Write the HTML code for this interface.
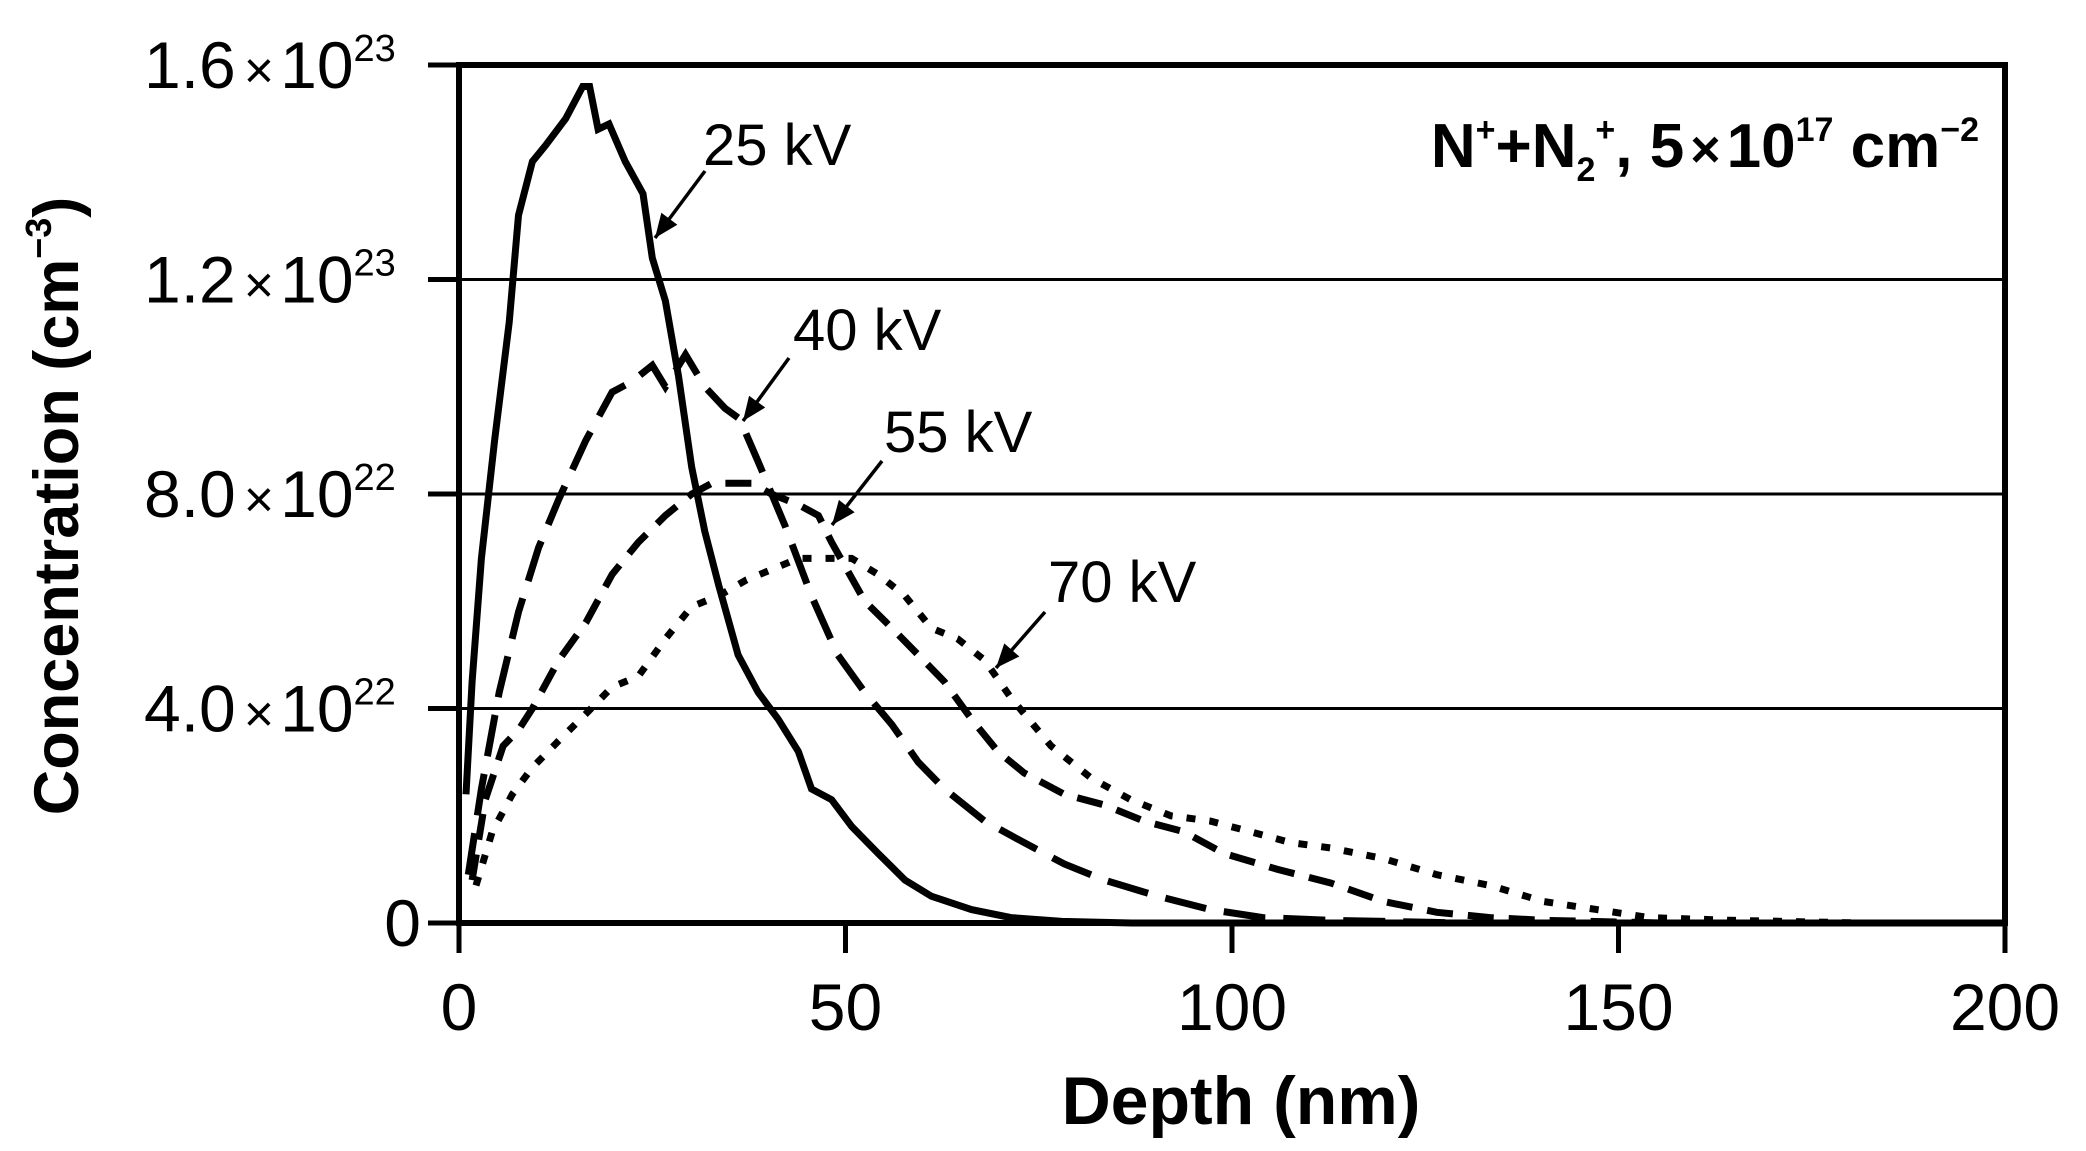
<!DOCTYPE html>
<html><head><meta charset="utf-8"><style>
html,body{margin:0;padding:0;background:#fff;}
svg{display:block;font-family:"Liberation Sans",sans-serif;}
</style></head><body>
<svg id="chart" width="2086" height="1151" viewBox="0 0 2086 1151" xmlns="http://www.w3.org/2000/svg">
<g id="grid"></g>
<g id="series"></g>
<g id="axes"></g>
<g id="annot">
  <text x="1979" y="167" text-anchor="end" font-size="62" font-weight="bold">N<tspan font-size="34" dy="-26">+</tspan><tspan dy="26">+N</tspan><tspan font-size="34" dy="14">2</tspan><tspan font-size="34" dy="-40">+</tspan><tspan dy="26">, 5</tspan><tspan font-size="52" dx="6">×</tspan><tspan dx="6">10</tspan><tspan font-size="34" dy="-26">17</tspan><tspan dy="26"> cm</tspan><tspan font-size="34" dy="-26">−2</tspan></text>
  <text x="703" y="165" font-size="58">25 kV</text>
  <text x="793" y="350" font-size="58">40 kV</text>
  <text x="884" y="452" font-size="58">55 kV</text>
  <text x="1048" y="602" font-size="58">70 kV</text>
  <text x="1241" y="1124" text-anchor="middle" font-size="68" font-weight="bold">Depth (nm)</text>
  <text transform="translate(78,506) rotate(-90)" text-anchor="middle" font-size="63" font-weight="bold">Concentration (cm<tspan font-size="36" dy="-27">−3</tspan><tspan dy="27">)</tspan></text>
</g>
</svg>
<script>
const xTicks=[0,50,100,150,200];
const yTicks=[0,4,8,12,16];
const yTickLabels=["0","4.0","8.0","1.2","1.6"];
const yTickExp=["","22","22","23","23"];
const depth25=[0.9,1.7,2.9,4.6,6.5,7.7,9.5,11.2,13.8,16,16.9,18,19.4,21.5,23.8,25,26.7,28.4,30.1,31.8,33.6,36.1,38.7,41.3,43.9,45.6,48.2,50.8,54.2,57.7,61.1,66.3,71.4,78,87,120,200];
const conc25=[2.4,4.5,6.8,9.0,11.2,13.2,14.2,14.5,15.0,15.6,15.6,14.8,14.9,14.2,13.6,12.4,11.6,10.2,8.5,7.3,6.3,5.0,4.3,3.8,3.2,2.5,2.3,1.8,1.3,0.8,0.5,0.25,0.1,0.03,0,0,0];
const depth40=[1.2,2.9,5.2,7.7,10.3,12.9,16.4,19.8,22.4,25,26.7,29.3,31.8,34.4,36.3,38.7,42.2,45.6,49,52.5,56,59.4,62.8,68,73.1,78.3,83.5,90.4,97.2,104,112.7,130,200];
const conc40=[0.9,2.5,4.3,5.8,7.0,7.9,9.0,9.9,10.1,10.4,10.0,10.6,10.0,9.6,9.4,8.6,7.4,6.1,5.0,4.3,3.7,3.0,2.5,1.9,1.5,1.1,0.8,0.5,0.25,0.1,0.05,0,0];
const depth55=[1.7,3.4,5.7,7.7,9.5,12.9,16.4,19.8,23.2,26.7,30.1,32.7,35.3,37.9,40.4,43.9,46.5,48.2,52.5,56,59.4,62.8,66.3,69.7,73.1,78.3,83.5,88.6,93.8,98.9,105.9,112.7,119.6,126.5,133.4,140.3,155.8,200];
const conc55=[0.8,2.3,3.3,3.6,4.0,4.9,5.6,6.5,7.1,7.6,8.0,8.2,8.2,8.2,8.0,7.8,7.6,7.1,6.0,5.5,5.0,4.5,3.8,3.2,2.8,2.4,2.2,1.9,1.7,1.3,1.0,0.75,0.4,0.2,0.1,0.05,0,0];
const depth70=[2.2,4.3,6.9,9.5,12.9,16.4,19.8,23.2,26.7,30.1,33.6,37.2,40.6,43.9,47.3,50.8,54.2,57.7,61.1,64.5,68,71.4,76.6,81.8,86.9,92.1,97.2,102.4,107.6,112.7,119.6,126.5,133.4,140.3,147.2,154,164.4,181.6,200];
const conc70=[0.7,1.7,2.4,2.9,3.4,3.9,4.4,4.6,5.3,5.9,6.1,6.4,6.6,6.8,6.8,6.8,6.5,6.1,5.5,5.3,4.9,4.2,3.3,2.7,2.3,2.0,1.9,1.7,1.5,1.4,1.2,0.9,0.7,0.4,0.25,0.1,0.05,0,0];

const X0=459,X1=2005,Y0=923,Y1=65;
const xs=v=>X0+(v/200)*(X1-X0);
const ys=v=>Y0-(v/16)*(Y0-Y1);
const NS="http://www.w3.org/2000/svg";
function mk(tag,parent){const e=document.createElementNS(NS,tag);parent.appendChild(e);return e;}
const grid=document.getElementById('grid'),axes=document.getElementById('axes'),series=document.getElementById('series');

yTicks.forEach((t,i)=>{
  if(t>0&&t<16){const l=mk('line',grid);
    
    
    l.setAttribute('x1',X0);l.setAttribute('x2',X1);l.setAttribute('y1',ys(t));l.setAttribute('y2',ys(t));
    l.setAttribute('stroke','#000');l.setAttribute('stroke-width','3');}
  const tk=mk('line',axes);
  
  
  tk.setAttribute('x1',X0-31);tk.setAttribute('x2',X0);tk.setAttribute('y1',ys(t));tk.setAttribute('y2',ys(t));
  tk.setAttribute('stroke','#000');tk.setAttribute('stroke-width','5');
  const tx=mk('text',axes);
  
  
  tx.setAttribute('font-size','66');
  if(yTickExp[i]){
    tx.setAttribute('x',144);tx.setAttribute('y',ys(t)+23);
    tx.innerHTML=yTickLabels[i]+'<tspan font-size="52" dx="8">×</tspan><tspan dx="6">10</tspan><tspan font-size="38" dy="-27">'+yTickExp[i]+'</tspan>';
  } else {
    tx.setAttribute('x',421);tx.setAttribute('y',ys(t)+23);tx.setAttribute('text-anchor','end');
    tx.textContent=yTickLabels[i];
  }
});
xTicks.forEach(t=>{
  const tk=mk('line',axes);
  
  
  tk.setAttribute('x1',xs(t));tk.setAttribute('x2',xs(t));tk.setAttribute('y1',Y0);tk.setAttribute('y2',Y0+30);
  tk.setAttribute('stroke','#000');tk.setAttribute('stroke-width','5');
  const tx=mk('text',axes);
  
  
  tx.setAttribute('x',xs(t));tx.setAttribute('y',1030);tx.setAttribute('text-anchor','middle');tx.setAttribute('font-size','66');
  tx.textContent=t;
});
const frame=mk('rect',axes);


frame.setAttribute('x',X0);frame.setAttribute('y',Y1);frame.setAttribute('width',X1-X0);frame.setAttribute('height',Y0-Y1);
frame.setAttribute('fill','none');frame.setAttribute('stroke','#000');frame.setAttribute('stroke-width','6');

const defs=[[depth25,conc25,'none','series-25kv'],[depth40,conc40,'42 18','series-40kv'],[depth55,conc55,'26 15','series-55kv'],[depth70,conc70,'9 14','series-70kv']];
defs.forEach(d=>{
  const p=mk('path',series);
  
  
  p.setAttribute('d',d[0].map((x,i)=>(i?'L':'M')+xs(x).toFixed(1)+' '+ys(d[1][i]).toFixed(1)).join(''));
  p.setAttribute('fill','none');p.setAttribute('stroke','#000');p.setAttribute('stroke-width','7');
  if(d[2]!=='none')p.setAttribute('stroke-dasharray',d[2]);
});
const arrows=[[705,171,655,238],[789,358,743,421],[882,461,832,525],[1045,612,996,668]];
arrows.forEach(a=>{
  const l=mk('line',series);
  
  
  l.setAttribute('x1',a[0]);l.setAttribute('y1',a[1]);l.setAttribute('x2',a[2]);l.setAttribute('y2',a[3]);
  l.setAttribute('stroke','#000');l.setAttribute('stroke-width','3.5');
  const ang=Math.atan2(a[3]-a[1],a[2]-a[0]),L=24,W=10;
  const bx=a[2]-L*Math.cos(ang),by=a[3]-L*Math.sin(ang);
  const h=mk('polygon',series);
  
  
  h.setAttribute('points',`${a[2]},${a[3]} ${bx+W*Math.sin(ang)},${by-W*Math.cos(ang)} ${bx-W*Math.sin(ang)},${by+W*Math.cos(ang)}`);
  h.setAttribute('fill','#000');
});
</script>
</body></html>
